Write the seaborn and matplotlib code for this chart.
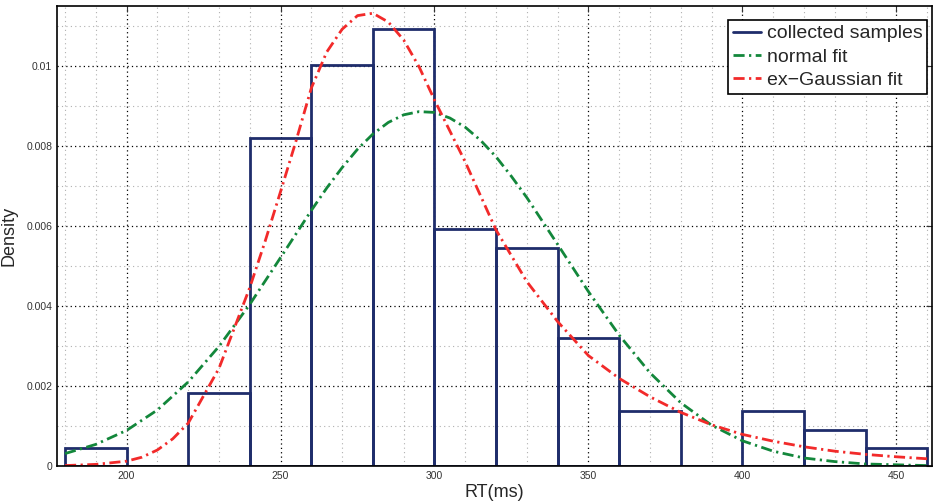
import matplotlib
matplotlib.use("Agg")
import matplotlib.pyplot as plt
from matplotlib.lines import Line2D
from matplotlib.ticker import MultipleLocator
import seaborn as sns

# histogram (density per 20 ms bin)
bin_edges = [180, 200, 220, 240, 260, 280, 300, 320, 340, 360, 380, 400, 420, 440, 460]
bin_centers = [190, 210, 230, 250, 270, 290, 310, 330, 350, 370, 390, 410, 430, 450]
density = [0.000455, 0.0, 0.00182, 0.00820, 0.01002, 0.01093, 0.00592, 0.00546,
           0.00319, 0.00137, 0.0, 0.00137, 0.00091, 0.00046]

# normal fit
norm_x = [180, 190, 200, 210, 220, 230, 240, 250, 260, 265, 270, 275, 280, 285, 290,
          295, 300, 305, 310, 315, 320, 325, 330, 340, 350, 360, 370, 380, 390, 400,
          410, 420, 430, 440, 450, 460]
norm_y = [0.00031, 0.00054, 0.00089, 0.00140, 0.00210, 0.00299, 0.00404, 0.00521,
          0.00639, 0.00695, 0.00746, 0.00792, 0.00830, 0.00859, 0.00878, 0.00886,
          0.00884, 0.00870, 0.00847, 0.00814, 0.00773, 0.00724, 0.00671, 0.00554,
          0.00436, 0.00327, 0.00233, 0.00158, 0.00102, 0.00063, 0.00037, 0.00020,
          0.00011, 0.00005, 0.00003, 0.00001]

# ex-Gaussian fit
exg_x = [180, 190, 200, 205, 210, 215, 220, 230, 240, 245, 250, 255, 260, 265, 270,
         275, 280, 285, 290, 295, 300, 310, 320, 330, 340, 350, 360, 370, 380, 390,
         400, 410, 420, 430, 440, 450, 460]
exg_y = [0.00001, 0.00004, 0.00012, 0.00022, 0.00040, 0.00068, 0.00107, 0.00244,
         0.00446, 0.00562, 0.00686, 0.00812, 0.00945, 0.01035, 0.01092, 0.01126,
         0.01132, 0.01110, 0.01065, 0.00998, 0.00915, 0.00760, 0.00590, 0.00461,
         0.00361, 0.00276, 0.00219, 0.00173, 0.00134, 0.00103, 0.00079, 0.00062,
         0.00048, 0.00037, 0.00029, 0.00023, 0.00018]

navy = "#1f2d6b"
green = "#13873b"
red = "#f22a2a"

sns.set_style("white")
plt.rcParams['font.family'] = ['Liberation Sans', 'DejaVu Sans']

fig = plt.figure(figsize=(9.35, 5.03), dpi=100)
ax = fig.add_axes([0.061, 0.0736, 0.9358, 0.9144])

dashdot = (0, (4, 1.6, 0.8, 1.6))

sns.histplot(x=bin_centers, weights=density, bins=bin_edges, fill=False,
             color=navy, linewidth=2, element="bars", ax=ax)
sns.lineplot(x=norm_x, y=norm_y, color=green, linewidth=2, linestyle=dashdot, ax=ax)
sns.lineplot(x=exg_x, y=exg_y, color=red, linewidth=2, linestyle=dashdot, ax=ax)

ax.set_xlim(177.4, 461.6)
ax.set_ylim(0, 0.0115)

ax.xaxis.set_major_locator(MultipleLocator(50))
ax.xaxis.set_minor_locator(MultipleLocator(10))
ax.yaxis.set_minor_locator(MultipleLocator(0.001))
ax.set_yticks([0, 0.002, 0.004, 0.006, 0.008, 0.01])
ax.set_yticklabels(["0", "0.002", "0.004", "0.006", "0.008", "0.01"])

ax.grid(True, which="major", color="black", linestyle=(0, (1, 2.5)), linewidth=0.9)
ax.grid(True, which="minor", color="#b0b0b0", linestyle=(0, (1, 3)), linewidth=0.8)
ax.set_axisbelow(True)

ax.tick_params(which="both", direction="in", top=True, right=True, labelsize=7.5,
               colors="#333333", length=4)
ax.tick_params(which="minor", length=0)
for s in ax.spines.values():
    s.set_color("black")
    s.set_linewidth(1.2)

ax.set_xlabel("RT(ms)", fontsize=13, labelpad=2)
ax.set_ylabel("Density", fontsize=13, labelpad=6)

handles = [Line2D([], [], color=navy, linewidth=2),
           Line2D([], [], color=green, linewidth=2, linestyle=dashdot),
           Line2D([], [], color=red, linewidth=2, linestyle=dashdot)]
leg = ax.legend(handles, ["collected samples", "normal fit", "ex\u2212Gaussian fit"],
                loc="upper right", bbox_to_anchor=(0.9945, 0.97), fontsize=14,
                frameon=True, fancybox=False, edgecolor="black", framealpha=1,
                handlelength=1.45, handletextpad=0.3, borderpad=0.25, labelspacing=0.3,
                borderaxespad=0.0)
leg.get_frame().set_linewidth(1.2)

fig.savefig("out.png", dpi=100)
